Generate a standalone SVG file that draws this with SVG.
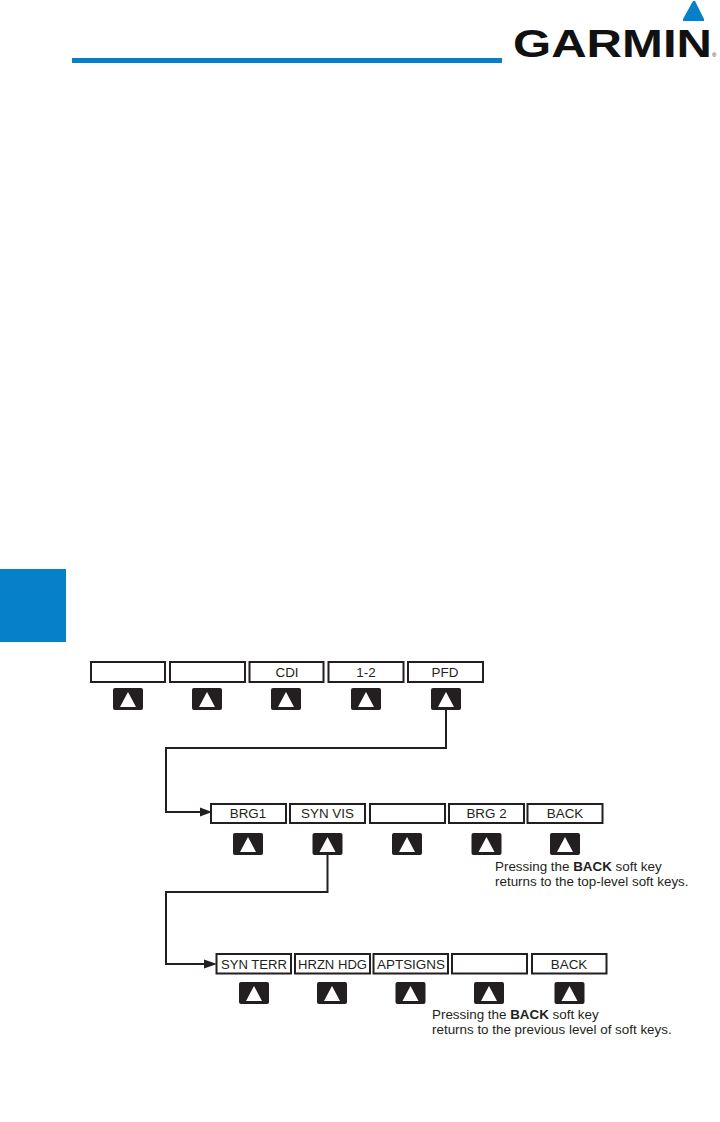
<svg xmlns="http://www.w3.org/2000/svg" width="720" height="1122" viewBox="0 0 720 1122">
<style>
text{font-family:"Liberation Sans",Arial,sans-serif;fill:#231f20}
.box{fill:#fff;stroke:#231f20;stroke-width:2}
.key{fill:#231f20}
.tri{fill:#fff}
.lbl{font-size:13.4px;text-anchor:middle}
.note{font-size:13.4px}
.conn{fill:none;stroke:#231f20;stroke-width:2}
.blue{fill:#0680c8}
</style>
<defs>
<g id="softkey"><rect class="key" x="0" y="0" width="30" height="22" rx="2"/><polygon class="tri" points="15,4 23,19 7,19"/></g>
</defs>
<rect width="720" height="1122" fill="#fff"/>
<g id="header">
<rect class="blue" x="72" y="58" width="430" height="5"/>
<rect class="blue" x="0" y="569" width="66" height="73"/>
<polygon class="blue" points="693,1 695,1 704,19 704,21 683,21 683,19"/>
<text x="513" y="57" font-size="39" font-weight="700" textLength="199" lengthAdjust="spacingAndGlyphs" style="fill:#111">GARMIN</text>
<text x="712" y="57" font-size="6" style="fill:#111">®</text>
</g>
<g id="connectors">
<path class="conn" d="M446 710V748H166V812H200"/>
<polygon fill="#231f20" points="200,807.500 212,812 200,816.500"/>
<path class="conn" d="M327.500 854V892H166V964H204"/>
<polygon fill="#231f20" points="204,959.500 217,964 204,968.500"/>
</g>
<g id="r1-1"><rect class="box" x="91" y="662" width="74" height="20"/><use href="#softkey" x="113" y="688"/></g>
<g id="r1-2"><rect class="box" x="170" y="662" width="75" height="20"/><use href="#softkey" x="192" y="688"/></g>
<g id="r1-3"><rect class="box" x="249.500" y="662" width="74" height="20"/><text class="lbl" x="287" y="677">CDI</text><use href="#softkey" x="271" y="688"/></g>
<g id="r1-4"><rect class="box" x="328.500" y="662" width="75" height="20"/><text class="lbl" x="366" y="677">1-2</text><use href="#softkey" x="351" y="688"/></g>
<g id="r1-5"><rect class="box" x="408" y="662" width="75" height="20"/><text class="lbl" x="445" y="677">PFD</text><use href="#softkey" x="431" y="688"/></g>
<g id="r2-1"><rect class="box" x="211" y="804" width="75" height="19"/><text class="lbl" x="248" y="818">BRG1</text><use href="#softkey" x="233" y="833"/></g>
<g id="r2-2"><rect class="box" x="290" y="804" width="75" height="19"/><text class="lbl" x="327.500" y="818">SYN VIS</text><use href="#softkey" x="312.500" y="833"/></g>
<g id="r2-3"><rect class="box" x="370" y="804" width="75" height="19"/><use href="#softkey" x="392" y="833"/></g>
<g id="r2-4"><rect class="box" x="449" y="804" width="75" height="19"/><text class="lbl" x="486.500" y="818">BRG 2</text><use href="#softkey" x="471.500" y="833"/></g>
<g id="r2-5"><rect class="box" x="527.500" y="804" width="75" height="19"/><text class="lbl" x="565" y="818">BACK</text><use href="#softkey" x="550" y="833"/></g>
<g id="r3-1"><rect class="box" x="216.500" y="954" width="74.500" height="19.500"/><text class="lbl" x="254" y="969" textLength="66" lengthAdjust="spacingAndGlyphs">SYN TERR</text><use href="#softkey" x="239" y="982"/></g>
<g id="r3-2"><rect class="box" x="295" y="954" width="75" height="19.500"/><text class="lbl" x="332.500" y="969" textLength="69" lengthAdjust="spacingAndGlyphs">HRZN HDG</text><use href="#softkey" x="317" y="982"/></g>
<g id="r3-3"><rect class="box" x="373.500" y="954" width="74.500" height="19.500"/><text class="lbl" x="411" y="969" textLength="68" lengthAdjust="spacingAndGlyphs">APTSIGNS</text><use href="#softkey" x="395.500" y="982"/></g>
<g id="r3-4"><rect class="box" x="452" y="954" width="75" height="19.500"/><use href="#softkey" x="474" y="982"/></g>
<g id="r3-5"><rect class="box" x="532" y="954" width="74.500" height="19.500"/><text class="lbl" x="569" y="969">BACK</text><use href="#softkey" x="554.500" y="982"/></g>
<g id="note-1"><text class="note" x="495" y="871">Pressing the <tspan font-weight="700">BACK</tspan> soft key</text><text class="note" x="495" y="886">returns to the top-level soft keys.</text></g>
<g id="note-2"><text class="note" x="432" y="1019">Pressing the <tspan font-weight="700">BACK</tspan> soft key</text><text class="note" x="432" y="1034">returns to the previous level of soft keys.</text></g>
</svg>
